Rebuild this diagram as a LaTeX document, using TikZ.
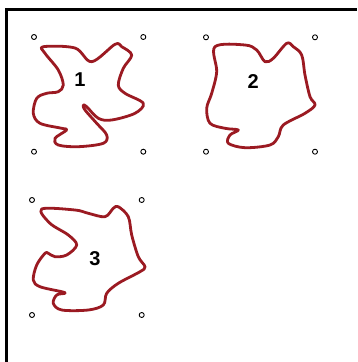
\documentclass[tikz,border=0pt]{standalone}
\usepackage{fontspec}
\setmainfont{Liberation Sans}
\definecolor{blobred}{RGB}{155,26,34}
\begin{document}
\begin{tikzpicture}[x=1pt,y=-1pt,
  blob/.style={draw=blobred,line width=2.8pt,line join=round},
  handle/.style={draw=black,line width=0.9pt,fill=white},
  numlabel/.style={font=\fontsize{20}{20}\selectfont\bfseries,inner sep=0pt}]
\useasboundingbox (0,0) rectangle (357,362);
\fill[white] (0,0) rectangle (357,362);
% frame
\draw[line width=3pt] (6,362) -- (6,9.5) -- (357,9.5);
% shape 1
\draw[blob] plot[smooth cycle,tension=0.55] coordinates {
 (43.3,46.7) (75,48) (91.7,61.7) (115,44.3) (121.7,46.7) (131.7,55)
 (123.3,68.3) (118.3,85) (125,93.3) (143.3,103.3) (135,113.3) (111.7,120)
 (98.3,118.3) (86.7,106.7) (83.3,105) (85,110) (96.7,123.3) (106.7,135)
 (103.3,143.3) (78.3,146.7) (58.3,145) (55,138.3) (66.7,130) (61.7,128.3)
 (40,123.3) (33.3,113.3) (36.7,98.3) (46.7,93.3) (58.3,91.7) (63.3,85)
 (58.3,70) (45,53.3)};
\node[numlabel] (l1) at (80,80) {1};
% shape 2
\draw[blob] plot[smooth cycle,tension=0.55] coordinates {
 (215,46.7) (245,45) (256.7,50) (265,61.7) (273.3,58.3) (286.7,43.3)
 (293.3,46.7) (301.7,55) (305,75) (310,96.7) (315,105) (305,113.3)
 (283.3,125) (278.3,136.7) (270,145) (245,147.7) (228.3,143.3) (230,135)
 (238.3,130) (225,128.3) (210,123.3) (206.7,108.3) (211.7,93.3) (216.7,71.7)};
\node[numlabel] (l2) at (253.3,81.7) {2};
% shape 3
\draw[blob] plot[smooth cycle,tension=0.55] coordinates {
 (41.7,209) (75,210) (88.3,213.3) (105,216.7) (113.3,208.3) (118.3,206.7)
 (128.3,216.7) (131.7,235) (138.3,256.7) (145,266.7) (140,271.7) (118.3,283.3)
 (106.7,293.3) (103.3,305) (88.3,310) (61.7,310) (53.3,303.3) (56.7,295)
 (65,293.3) (61.7,291.7) (40,286.7) (33.3,280) (36.7,265) (45,253.3)
 (48.3,253.3) (55,256.7) (66.7,255) (76.7,245) (68.3,235) (50,223.3)};
\node[numlabel] (l3) at (95,258.3) {3};
% handles
\foreach \p in {(34,37),(143.3,37),(34,151.7),(143.3,151.7),
                (206,37.3),(315,37.3),(206,151.7),(315,151.7),
                (32,200),(141.7,200),(32,315),(141.7,315)}
  \draw[handle] \p circle (2.5);
\end{tikzpicture}
\end{document}
